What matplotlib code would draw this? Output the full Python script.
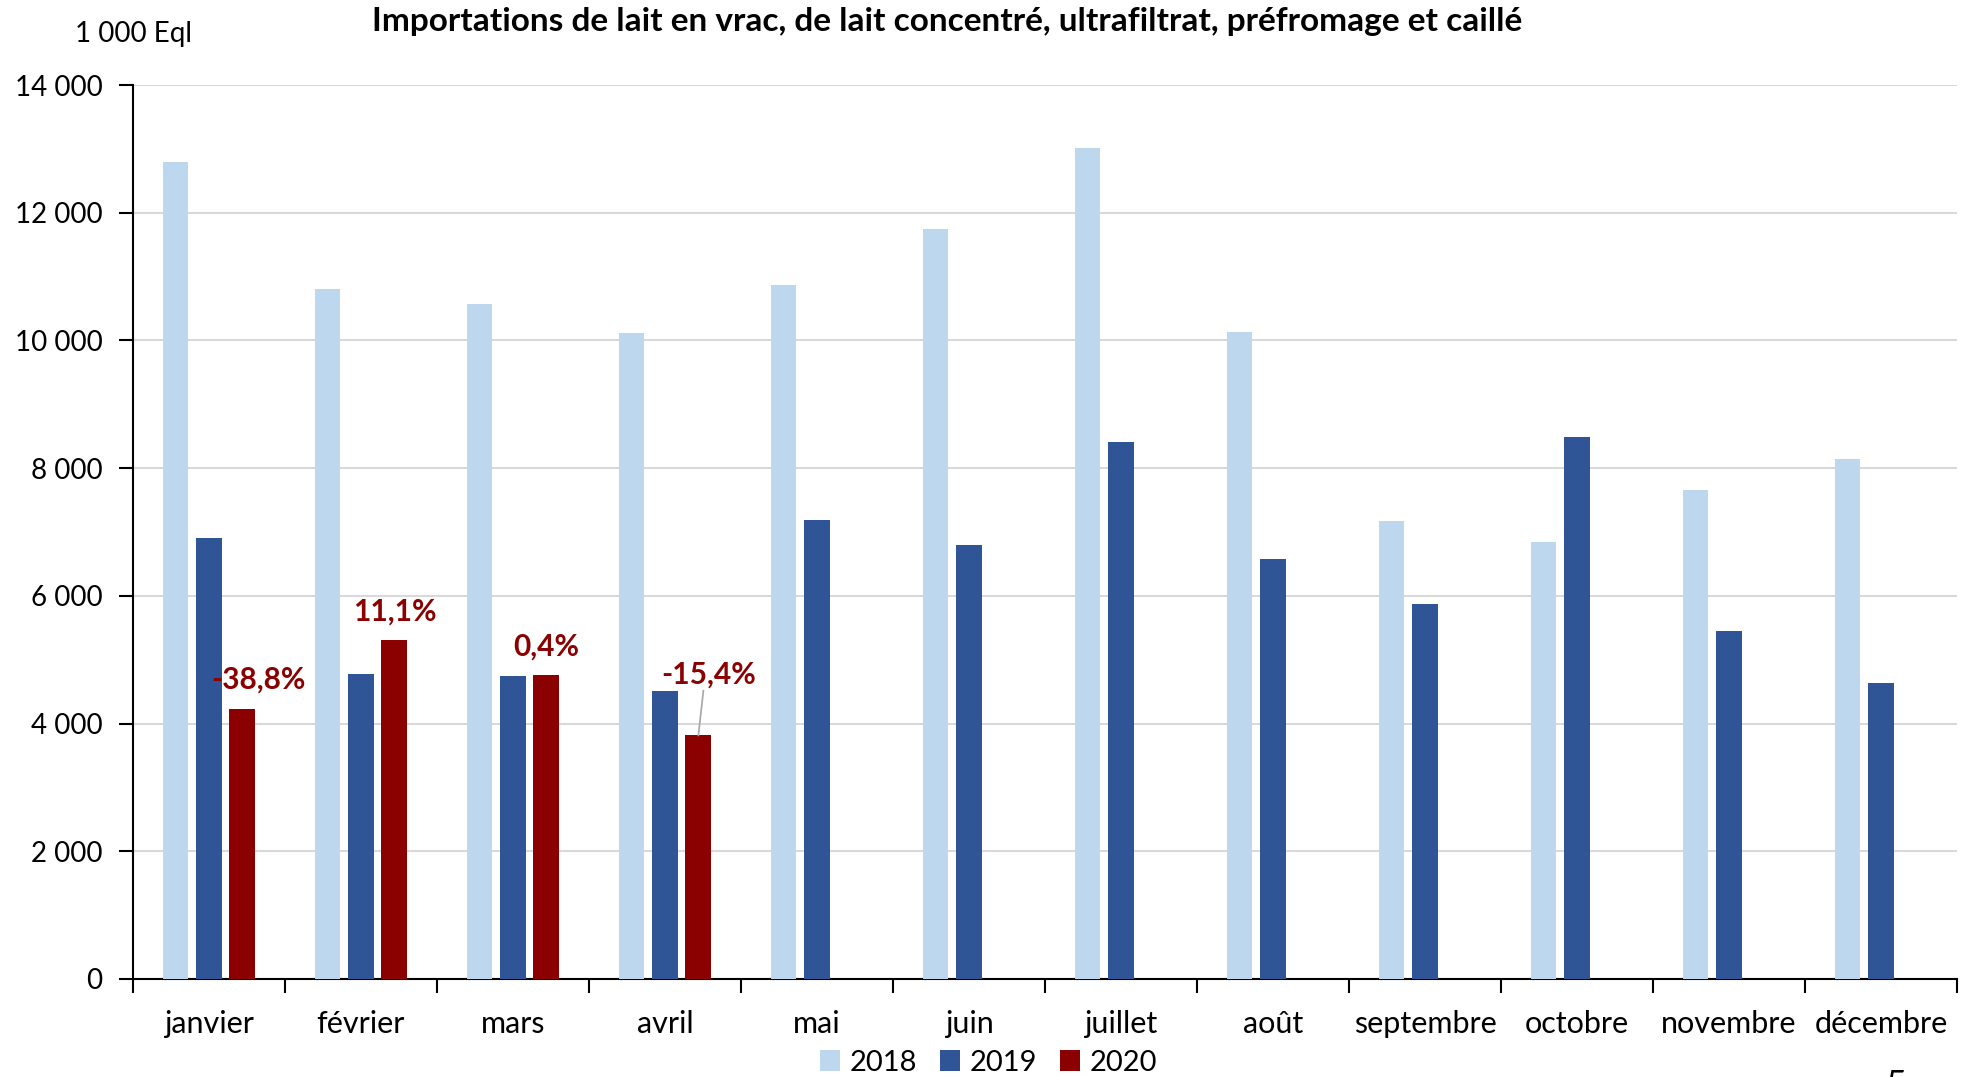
import matplotlib
matplotlib.use("Agg")
import matplotlib.pyplot as plt
import numpy as np

plt.rcParams['font.family'] = ['Lato', 'DejaVu Sans']

months = ["janvier", "février", "mars", "avril", "mai", "juin", "juillet",
          "août", "septembre", "octobre", "novembre", "décembre"]
v2018 = [12800, 10810, 10570, 10120, 10870, 11750, 13010, 10140, 7170, 6850, 7660, 8150]
v2019 = [6910, 4780, 4745, 4510, 7190, 6790, 8410, 6580, 5870, 8490, 5450, 4630]
v2020 = [4229, 5311, 4764, 3815]
pct_labels = ["-38,8%", "11,1%", "0,4%", "-15,4%"]
years = ["2018", "2019", "2020"]
colors = ["#BDD7EE", "#2F5597", "#8B0000"]

fig = plt.figure(figsize=(19.69, 10.77), dpi=100)
ax = fig.add_axes([0.0675, 0.091, 0.9264, 0.830])

x = np.arange(len(months))
w = 0.17
off = 0.22
ax.bar(x - off, v2018, w, color=colors[0], label=years[0], zorder=3)
ax.bar(x, v2019, w, color=colors[1], label=years[1], zorder=3)
x20 = x[:len(v2020)] + off
ax.bar(x20, v2020, w, color=colors[2], label=years[2], zorder=3)

# percentage labels
lab_dx = [0.107, 0.0, 0.0, 0.066]
lab_dy = [460, 450, 440, 950]
for i, (xx, val, lab) in enumerate(zip(x20, v2020, pct_labels)):
    tx = xx + lab_dx[i]
    ty = val + lab_dy[i]
    ax.text(tx, ty, lab, ha='center', va='center', color="#8B0000",
            fontsize=21.5, fontweight='bold', zorder=5)
    if i == 3:
        ax.plot([tx - 0.033, xx], [ty - 250, val], color="#A6A6A6", lw=1.2, zorder=4)

ax.set_xlim(-0.5, len(months) - 0.5)
ax.set_ylim(0, 14000)
ax.set_yticks(np.arange(0, 14001, 2000))
ax.set_yticklabels([f"{int(t):,}".replace(",", " ") for t in np.arange(0, 14001, 2000)], fontsize=20)
ax.set_xticks(x)
ax.set_xticklabels(months, fontsize=22)
ax.set_xticks(np.arange(-0.5, len(months), 1), minor=True)
ax.tick_params(axis='x', which='major', length=0, pad=22)
ax.tick_params(axis='x', which='minor', length=10, width=1.5, direction='out')
ax.tick_params(axis='y', length=10, width=1.5, direction='out', pad=12)
ax.grid(axis='y', color="#D9D9D9", lw=1.5, zorder=0)
for s in ['top', 'right']:
    ax.spines[s].set_visible(False)
ax.spines['left'].set_linewidth(1.5)
ax.spines['bottom'].set_linewidth(1.5)

fig.text(0.038, 1 - 34 / 1077, "1 000 Eql", fontsize=20, va='center', ha='left')
fig.text(0.481, 1 - 22 / 1077, "Importations de lait en vrac, de lait concentré, ultrafiltrat, préfromage et caillé",
         fontsize=24, fontweight='bold', ha='center', va='center')

ax.legend(loc='upper center', bbox_to_anchor=(0.469, -0.066), ncol=3, frameon=False,
          fontsize=21, handlelength=0.7, handleheight=0.7, handletextpad=0.3, columnspacing=0.8,
          borderaxespad=0)

fig.text(1885 / 1969, 1 - 1069 / 1077, "5", fontsize=26, va='top', ha='left')

fig.savefig("out.png", dpi=100)
